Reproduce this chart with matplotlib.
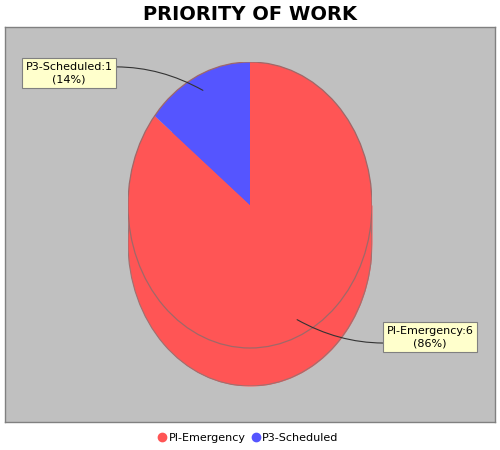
import numpy as np
import matplotlib
matplotlib.use('Agg')
import matplotlib.pyplot as plt
from matplotlib.lines import Line2D
from matplotlib.patches import Ellipse

# data
categories = ['PI-Emergency', 'P3-Scheduled']
counts = [6, 1]
slice_colors = ['#FF5555', '#5555FF']
title = 'PRIORITY OF WORK'

W, H = 500, 450
fig = plt.figure(figsize=(5, 4.5), dpi=100)
fig.patch.set_facecolor('white')

# plot area (grey box)
bg = fig.add_axes([5 / W, (H - 422) / H, 490 / W, 395 / H])
bg.set_facecolor('#C0C0C0')
bg.set_xticks([])
bg.set_yticks([])
for sp in bg.spines.values():
    sp.set_color('#808080')
    sp.set_linewidth(1.0)

# pie axes: top face 244x286 px, depth 38 px
top_px, bot_px = 62, 386
face_h = 286
depth = 38 * 2 / face_h
ax = fig.add_axes([128 / W, (H - bot_px) / H, 244 / W, (bot_px - top_px) / H])
ax.patch.set_alpha(0)
ax.axis('off')

total = sum(counts)
pct = [c / total * 100 for c in counts]

# side (extrusion) of the 3D pie
ax.pie(counts, colors=slice_colors, startangle=90, counterclock=False,
       center=(0, -depth), radius=1, wedgeprops=dict(linewidth=0, zorder=1))
xs = np.linspace(-1, 1, 400)
ax.fill_between(xs, -depth - np.sqrt(1 - xs ** 2), 0, color=slice_colors[0],
                linewidth=0, zorder=1)
ax.add_patch(Ellipse((0, -depth), 2, 2, fill=False, ec='#a07070', lw=0.8, zorder=2))

# top face
wedges, _ = ax.pie(counts, colors=slice_colors, startangle=90, counterclock=False,
                   radius=1, wedgeprops=dict(linewidth=0, zorder=3))
ax.add_patch(Ellipse((0, 0), 2, 2, fill=False, ec='#a06868', lw=0.9, zorder=4))

ax.set_aspect('auto')
ax.set_xlim(-1, 1)
ax.set_ylim(1 - (bot_px - top_px) * 2 / face_h, 1)

# labels
label_pos = [(430, H - 337), (69, H - 73)]
for w, cat, c, p, pos in zip(wedges, categories, counts, pct, label_pos):
    mid = np.deg2rad((w.theta1 + w.theta2) / 2)
    anchor = (0.89 * np.cos(mid), 0.89 * np.sin(mid))
    ax.annotate(f'{cat}:{c}\n({p:.0f}%)', xy=anchor, xytext=pos,
                textcoords='figure pixels', ha='center', va='center',
                fontsize=8, linespacing=1.3, annotation_clip=False, zorder=6,
                bbox=dict(boxstyle='square,pad=0.3', fc='#FFFFCC', ec='#808080', lw=0.8),
                arrowprops=dict(arrowstyle='-', color='#333333', lw=0.8,
                                connectionstyle='arc3,rad=-0.2', shrinkA=0, shrinkB=0))

fig.text(0.5, (H - 14) / H, title, ha='center', va='center',
         fontsize=14, fontweight='heavy')

handles = [Line2D([0], [0], marker='o', linestyle='', markersize=6,
                  markerfacecolor=col, markeredgecolor=col) for col in slice_colors]
fig.legend(handles, categories, loc='center', bbox_to_anchor=(0.495, 12 / H),
           ncol=2, frameon=False, fontsize=8, handletextpad=0.1,
           columnspacing=0.4, handlelength=1.0)

fig.savefig('out.png', dpi=100)
